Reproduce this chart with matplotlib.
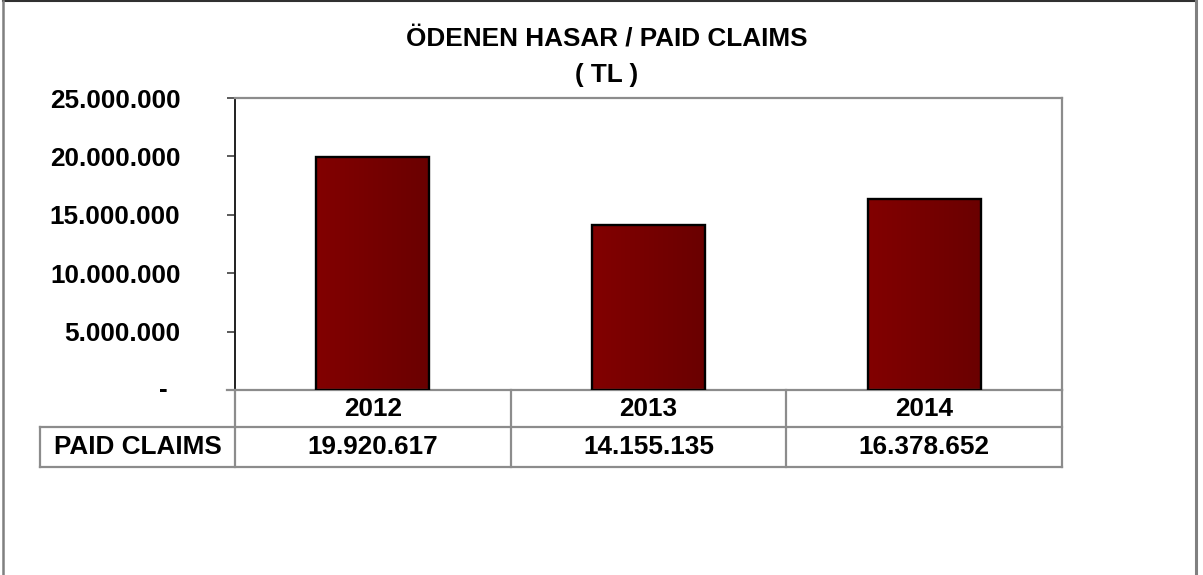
import matplotlib
matplotlib.use("Agg")
import matplotlib.pyplot as plt
import numpy as np
from matplotlib.colors import LinearSegmentedColormap
from matplotlib.lines import Line2D
from matplotlib import transforms

plt.rcParams['font.family'] = ['Liberation Sans', 'DejaVu Sans']
plt.rcParams['font.weight'] = 'bold'
plt.rcParams['font.size'] = 18.8

# data
years = ['2012', '2013', '2014']
paid_claims = [19920617, 14155135, 16378652]
row_label = 'PAID CLAIMS'
title_line1 = 'ÖDENEN HASAR / PAID CLAIMS'
title_line2 = '( TL )'
yticks = [0, 5000000, 10000000, 15000000, 20000000, 25000000]

W, H = 1203, 575
fig = plt.figure(figsize=(W / 100, H / 100), dpi=100)

def fx(px):
    return px / W

def fy(py):
    return 1 - py / H

grid_gray = '#8c8c8c'

# main bar axes
ax = fig.add_axes([fx(235), fy(390), fx(1062) - fx(235), fy(98) - fy(390)])
x = np.arange(len(years))
bw = 0.41
cmap = LinearSegmentedColormap.from_list('bar', ['#820000', '#6a0000'])
grad = np.linspace(0, 1, 256).reshape(1, -1)
for xi, v in zip(x, paid_claims):
    ax.imshow(grad, cmap=cmap, extent=(xi - bw / 2, xi + bw / 2, 0, v),
              aspect='auto', zorder=2, interpolation='bilinear')
ax.bar(x, paid_claims, width=bw, facecolor='none', edgecolor='black',
       linewidth=1.7, zorder=3)
ax.set_xlim(-0.5, len(years) - 0.5)
ax.set_ylim(0, 25000000)
ax.set_xticks([])
ax.set_yticks(yticks)
labels = ['{:,}'.format(t).replace(',', '.') if t else '' for t in yticks]
ax.set_yticklabels(labels)
ax.tick_params(axis='y', direction='out', length=5.8, width=1.2,
               color='#404040', pad=33.5, labelsize=18.8)
for lab in ax.get_yticklabels():
    lab.set_fontweight('bold')
# the zero label sits a bit further in
zero_tr = transforms.offset_copy(ax.get_yaxis_transform(), fig=fig,
                                 x=-67, y=0, units='dots')
ax.text(0, 0, '-', transform=zero_tr, ha='right', va='center',
        fontsize=18.8, fontweight='bold')
ax.spines['left'].set_color('#202020')
ax.spines['left'].set_linewidth(1.4)
for s in ['top', 'right', 'bottom']:
    ax.spines[s].set_color(grid_gray)
    ax.spines[s].set_linewidth(1.6)
ax.add_line(Line2D([-0.5 - 8 / 275.7, -0.5], [0, 0], color=grid_gray,
                   lw=1.6, clip_on=False, transform=ax.transData))

# data table under the axes
tab = fig.add_axes([fx(235), fy(467), fx(1062) - fx(235), fy(390) - fy(467)])
tab.set_xlim(-0.5, len(years) - 0.5)
tab.set_ylim(0, 1)
tab.axis('off')
mid = (467 - 427) / 77
left = -0.5 - 195 / 275.7
kw = dict(color=grid_gray, lw=1.6, clip_on=False)
tab.plot([left, len(years) - 0.5], [mid, mid], **kw)
tab.plot([left, len(years) - 0.5], [0, 0], **kw)
tab.plot([left, left], [0, mid], **kw)
for b in np.arange(len(years) + 1) - 0.5:
    tab.plot([b, b], [0, 1], **kw)
for xi, yr, v in zip(x, years, paid_claims):
    tab.text(xi, (1 + mid) / 2, yr, ha='center', va='center',
             fontweight='bold')
    tab.text(xi, mid / 2, '{:,}'.format(v).replace(',', '.'),
             ha='center', va='center', fontweight='bold')
tab.text((left - 0.5) / 2, mid / 2, row_label, ha='center', va='center',
         fontweight='bold', clip_on=False)

# title
fig.text(fx(607), fy(38), title_line1, ha='center', va='center',
         fontweight='bold')
fig.text(fx(607), fy(75), title_line2, ha='center', va='center',
         fontweight='bold')

# outer frame
fig.add_artist(Line2D([fx(3), fx(1196)], [fy(1), fy(1)], color='#303030',
                      lw=1.5, transform=fig.transFigure))
fig.add_artist(Line2D([fx(3), fx(3)], [fy(1), 0], color='#808080',
                      lw=1.8, transform=fig.transFigure))
fig.add_artist(Line2D([fx(1196), fx(1196)], [fy(1), 0], color='#808080',
                      lw=2.2, transform=fig.transFigure))

fig.savefig('out.png', dpi=100)
